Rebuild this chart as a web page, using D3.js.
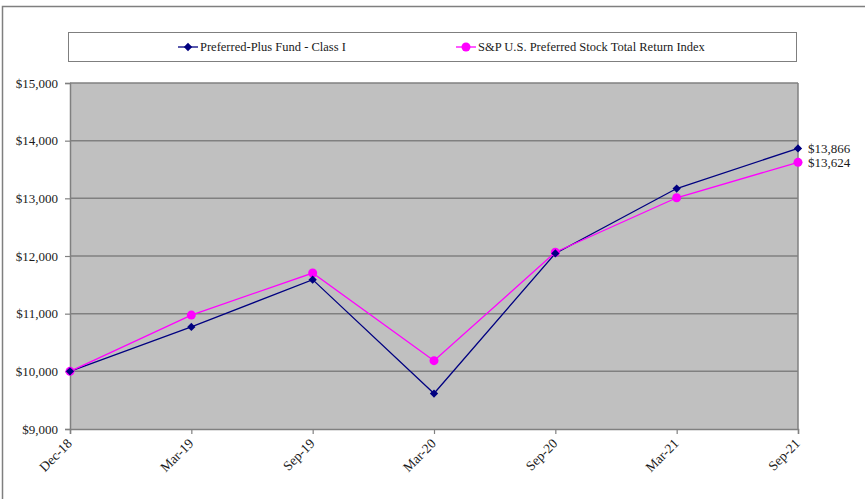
<!DOCTYPE html>
<html>
<head>
<meta charset="utf-8">
<script src="https://cdn.jsdelivr.net/npm/d3@7"></script>
<style>
  html, body { margin: 0; padding: 0; background: #fff; }
  svg { display: block; font-family: "Liberation Serif", "Times New Roman", serif; }
</style>
</head>
<body>
<svg id="chart" width="865" height="499"></svg>
<script>
// Growth of a $10,000 investment, quarterly checkpoints
const periods = ["Dec-18", "Mar-19", "Sep-19", "Mar-20", "Sep-20", "Mar-21", "Sep-21"];
const fundValues = [10000, 10770, 11590, 9615, 12045, 13170, 13866];
const indexValues = [10000, 10975, 11705, 10185, 12065, 13010, 13624];
const seriesNames = ["Preferred-Plus Fund - Class I", "S&P U.S. Preferred Stock Total Return Index"];
const yTicks = [9000, 10000, 11000, 12000, 13000, 14000, 15000];

const svg = d3.select("#chart");
const plot = { left: 70, right: 798, top: 83, bottom: 429 };

const x = d3.scalePoint().domain(periods).range([plot.left, plot.right]);
const y = d3.scaleLinear().domain([9000, 15000]).range([plot.bottom, plot.top]);
const money = d3.format("$,");
const textColor = "#1a1a1a";

// outer frame
svg.append("rect")
  .attr("x", 2.5).attr("y", 6.5).attr("width", 900).attr("height", 600)
  .attr("fill", "none").attr("stroke", "#7f7f7f").attr("stroke-width", 1.5);

// legend box
svg.append("rect")
  .attr("x", 68.5).attr("y", 32.5).attr("width", 728).attr("height", 29)
  .attr("fill", "#fff").attr("stroke", "#7f7f7f").attr("stroke-width", 1);

// plot background
svg.append("rect")
  .attr("x", plot.left).attr("y", plot.top)
  .attr("width", plot.right - plot.left).attr("height", plot.bottom - plot.top)
  .attr("fill", "#c0c0c0");

// horizontal gridlines
svg.append("g").selectAll("line").data(yTicks.slice(1)).join("line")
  .attr("x1", plot.left).attr("x2", plot.right)
  .attr("y1", d => y(d)).attr("y2", d => y(d))
  .attr("stroke", "#808080").attr("stroke-width", 1.5);

// right border of plot
svg.append("line")
  .attr("x1", plot.right).attr("x2", plot.right)
  .attr("y1", plot.top).attr("y2", plot.bottom)
  .attr("stroke", "#808080").attr("stroke-width", 1.5);

// y axis
const yAxis = svg.append("g")
  .attr("transform", `translate(${plot.left},0)`)
  .call(d3.axisLeft(y).tickValues(yTicks).tickFormat(money).tickSize(5).tickPadding(7));
yAxis.select(".domain").attr("stroke", "#808080").attr("stroke-width", 1.5);
yAxis.selectAll(".tick line").attr("stroke", "#808080").attr("stroke-width", 1.2);
yAxis.selectAll(".tick text").attr("font-size", 13).attr("fill", textColor)
  .attr("font-family", "Liberation Serif, serif");

// x axis with rotated period labels
const xAxis = svg.append("g")
  .attr("transform", `translate(0,${plot.bottom})`)
  .call(d3.axisBottom(x).tickSize(5).tickPadding(4));
xAxis.select(".domain").attr("stroke", "#808080").attr("stroke-width", 1.5);
xAxis.selectAll(".tick line").attr("stroke", "#808080").attr("stroke-width", 1.2);
xAxis.selectAll(".tick text")
  .attr("font-size", 13.5).attr("fill", textColor)
  .attr("font-family", "Liberation Serif, serif")
  .attr("text-anchor", "end")
  .attr("x", 0).attr("y", 0)
  .attr("dy", "0.35em")
  .attr("transform", "translate(-1,12) rotate(-45)");

// series lines and markers
const line = d3.line().x((d, i) => x(periods[i])).y(d => y(d));
const series = [
  { name: seriesNames[0], values: fundValues, color: "#000080", marker: "diamond" },
  { name: seriesNames[1], values: indexValues, color: "#ff00ff", marker: "circle" }
];
const diamond = d3.symbol().type(d3.symbolDiamond2).size(44);

series.forEach(s => {
  svg.append("path").datum(s.values)
    .attr("d", line).attr("fill", "none")
    .attr("stroke", s.color).attr("stroke-width", 1.3);
});
// index markers first, fund markers on top
[series[1], series[0]].forEach(s => {
  const g = svg.append("g");
  if (s.marker === "circle") {
    g.selectAll("circle").data(s.values).join("circle")
      .attr("cx", (d, i) => x(periods[i])).attr("cy", d => y(d))
      .attr("r", 4.5).attr("fill", s.color);
  } else {
    g.selectAll("path").data(s.values).join("path")
      .attr("d", diamond)
      .attr("transform", (d, i) => `translate(${x(periods[i])},${y(d)})`)
      .attr("fill", s.color);
  }
});

// end-of-series value labels
svg.append("text")
  .attr("x", plot.right + 10).attr("y", y(fundValues[fundValues.length - 1]))
  .attr("dy", "0.35em").attr("font-size", 13).attr("fill", textColor)
  .text(money(fundValues[fundValues.length - 1]));
svg.append("text")
  .attr("x", plot.right + 10).attr("y", y(indexValues[indexValues.length - 1]))
  .attr("dy", "0.35em").attr("font-size", 13).attr("fill", textColor)
  .text(money(indexValues[indexValues.length - 1]));

// legend entries
const legendItems = [
  { s: series[0], x0: 178 },
  { s: series[1], x0: 456 }
];
legendItems.forEach(({ s, x0 }) => {
  const ly = 47;
  svg.append("line").attr("x1", x0).attr("x2", x0 + 20).attr("y1", ly).attr("y2", ly)
    .attr("stroke", s.color).attr("stroke-width", 1.3);
  if (s.marker === "circle") {
    svg.append("circle").attr("cx", x0 + 10).attr("cy", ly).attr("r", 4.5).attr("fill", s.color);
  } else {
    svg.append("path").attr("d", diamond).attr("transform", `translate(${x0 + 10},${ly})`).attr("fill", s.color);
  }
  svg.append("text").attr("x", x0 + 22).attr("y", ly).attr("dy", "0.35em")
    .attr("font-size", 12.5).attr("fill", textColor).text(s.name);
});
</script>
</body>
</html>
